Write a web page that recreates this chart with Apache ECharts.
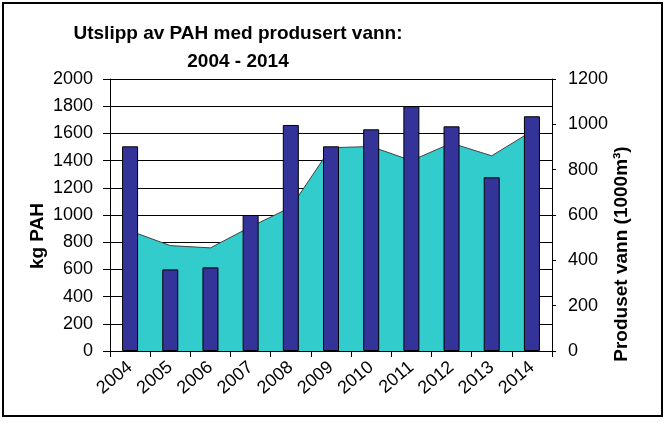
<!DOCTYPE html>
<html>
<head>
<meta charset="utf-8">
<script src="https://cdn.jsdelivr.net/npm/echarts@6/dist/echarts.min.js"></script>
<style>html,body{margin:0;padding:0;background:#fff}#c{width:665px;height:423px}</style>
</head>
<body>
<div id="c"></div>
<script>
var years = ['2004','2005','2006','2007','2008','2009','2010','2011','2012','2013','2014'];
var pahKg = [1505, 600, 615, 1000, 1662, 1505, 1630, 1800, 1652, 1277, 1726];
var produsertVann = [530, 465, 455, 548, 634, 897, 902, 840, 917, 861, 970];
var leftTicks = {min: 0, max: 2000, interval: 200};
var rightTicks = {min: 0, max: 1200, interval: 200};

var chart = echarts.init(document.getElementById('c'));
var FONT = 'Liberation Sans, Arial, sans-serif';
var plain = function (v) { return String(v); };
chart.setOption({
  animation: false,
  backgroundColor: '#fff',
  title: {
    text: 'Utslipp av PAH med produsert vann:\n2004 - 2014',
    left: 233, top: 15, textAlign: 'center',
    textStyle: {fontFamily: FONT, fontWeight: 'bold', fontSize: 19, color: '#000', lineHeight: 28}
  },
  grid: {left: 110, right: 113, top: 79, bottom: 72, containLabel: false},
  xAxis: [{
    type: 'category', data: years, boundaryGap: true,
    axisLine: {show: true, lineStyle: {color: '#000', width: 1}},
    axisTick: {show: true, length: 6, lineStyle: {color: '#000'}},
    axisLabel: {rotate: 40, fontSize: 18, fontFamily: FONT, color: '#000', margin: 14, interval: 0}
  }, {
    type: 'category', data: years, boundaryGap: true, position: 'bottom',
    axisLine: {show: false},
    axisTick: {show: true, inside: true, length: 6, lineStyle: {color: '#000'}},
    axisLabel: {show: false}
  }],
  yAxis: [{
    type: 'value', min: leftTicks.min, max: leftTicks.max, interval: leftTicks.interval,
    axisLine: {show: true, lineStyle: {color: '#000'}},
    axisTick: {show: true, length: 7, lineStyle: {color: '#000'}},
    axisLabel: {fontSize: 18, fontFamily: FONT, color: '#000', margin: 17, formatter: plain},
    splitLine: {show: true, lineStyle: {color: '#000', width: 1}}
  }, {
    type: 'value', min: rightTicks.min, max: rightTicks.max, interval: rightTicks.interval, position: 'right',
    axisLine: {show: true, lineStyle: {color: '#000'}},
    axisTick: {show: true, length: 4, lineStyle: {color: '#000'}},
    axisLabel: {fontSize: 18, fontFamily: FONT, color: '#000', margin: 16, formatter: plain},
    splitLine: {show: false}
  }],
  series: [{
    name: 'Produsert vann', type: 'line', yAxisIndex: 1, data: produsertVann,
    symbol: 'none', z: 1,
    lineStyle: {color: '#444', width: 1},
    areaStyle: {color: '#33CCCC', opacity: 1}
  }, {
    name: 'PAH', type: 'bar', yAxisIndex: 0, data: pahKg, barWidth: 16, z: 3,
    itemStyle: {color: '#333399', borderColor: '#000', borderWidth: 1}
  }],
  graphic: [{
    type: 'rect', shape: {x: 3, y: 3, width: 659, height: 413},
    style: {fill: 'none', stroke: '#000', lineWidth: 2}, silent: true
  }, {
    type: 'text', x: 38, y: 236, rotation: Math.PI / 2,
    style: {text: 'kg PAH', fontFamily: FONT, fontWeight: 'bold', fontSize: 19, fill: '#000', align: 'center', verticalAlign: 'middle'}
  }, {
    type: 'text', x: 622, y: 254, rotation: Math.PI / 2,
    style: {text: 'Produset vann (1000m³)', fontFamily: FONT, fontWeight: 'bold', fontSize: 19, fill: '#000', align: 'center', verticalAlign: 'middle'}
  }]
});
</script>
</body>
</html>
